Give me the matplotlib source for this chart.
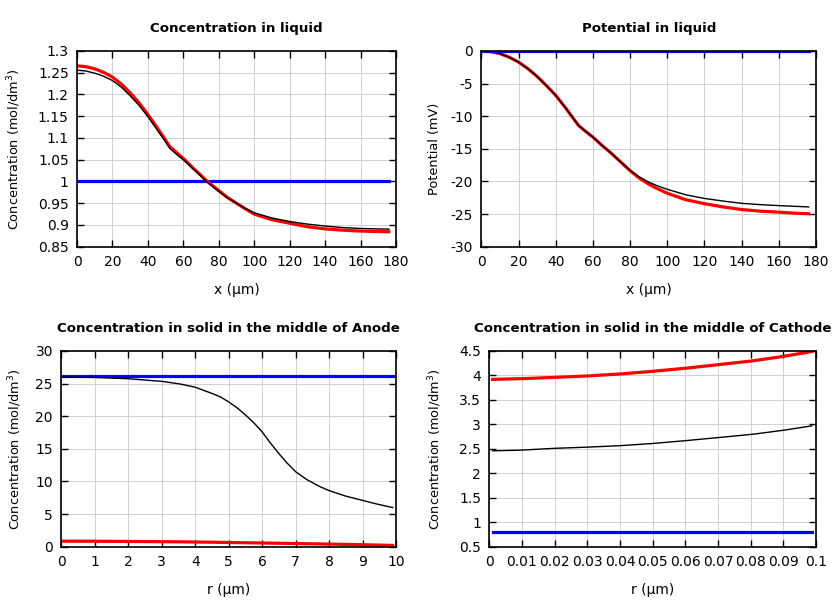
import numpy as np
import matplotlib
matplotlib.use("Agg")
import matplotlib.pyplot as plt

plt.rcParams['font.family'] = ['DejaVu Sans']
plt.rcParams['axes.unicode_minus'] = False

# liquid phase, x in um
x_liq = [0, 5, 10, 15, 20, 25, 30, 35, 40, 45, 49.5, 52.4, 56, 60, 65, 70, 73, 80, 85, 90, 95,
         100, 110, 120, 130, 140, 150, 160, 168, 176]
c_liq_black = [1.256, 1.254, 1.249, 1.242, 1.232, 1.217, 1.197, 1.175, 1.149, 1.120, 1.094, 1.076,
               1.063, 1.050, 1.031, 1.012, 1.000, 0.977, 0.962, 0.950, 0.938, 0.928, 0.916, 0.908,
               0.902, 0.8976, 0.894, 0.892, 0.891, 0.8905]
c_liq_red = [1.266, 1.264, 1.259, 1.251, 1.240, 1.224, 1.204, 1.181, 1.154, 1.125, 1.098, 1.080,
             1.067, 1.053, 1.033, 1.014, 1.002, 0.979, 0.963, 0.950, 0.937, 0.925, 0.912, 0.904,
             0.896, 0.891, 0.888, 0.886, 0.885, 0.8845]
c_liq_blue = [1.0] * len(x_liq)

p_liq_black = [0.0, -0.1, -0.4, -0.95, -1.7, -2.7, -3.9, -5.3, -6.8, -8.6, -10.35, -11.45, -12.3, -13.2,
               -14.5, -15.7, -16.5, -18.3, -19.3, -20.1, -20.7, -21.2, -22.05, -22.6, -23.0, -23.35,
               -23.55, -23.7, -23.8, -23.9]
p_liq_red = [0.0, -0.1, -0.4, -0.95, -1.7, -2.7, -3.9, -5.3, -6.8, -8.6, -10.35, -11.45, -12.3, -13.2,
             -14.5, -15.7, -16.5, -18.35, -19.5, -20.4, -21.15, -21.8, -22.8, -23.4, -23.9, -24.3,
             -24.55, -24.7, -24.85, -24.95]
p_liq_blue = [0.0] * len(x_liq)

# anode particle, r in um
r_an = [0.05, 1, 2, 3, 3.55, 4, 4.5, 4.74, 5, 5.25, 5.5, 5.75, 6, 6.23, 6.48, 6.73, 7, 7.33, 7.73,
        8, 8.5, 9, 9.42, 9.9]
c_an_black = [26.0, 25.95, 25.75, 25.35, 24.94, 24.45, 23.5, 23.0, 22.2, 21.3, 20.2, 19.0, 17.6, 16.0,
              14.4, 12.9, 11.5, 10.3, 9.2, 8.6, 7.75, 7.1, 6.55, 6.0]
c_an_red = [0.85, 0.84, 0.81, 0.77, 0.75, 0.72, 0.69, 0.67, 0.65, 0.63, 0.61, 0.59, 0.57, 0.55, 0.53,
            0.51, 0.49, 0.46, 0.43, 0.40, 0.36, 0.31, 0.26, 0.2]
c_an_blue = [26.15] * len(r_an)

# cathode particle, r in um
r_ca = [0.001, 0.01, 0.0196, 0.03, 0.04, 0.05, 0.0604, 0.07, 0.0808, 0.09, 0.0987]
c_ca_black = [2.46, 2.475, 2.51, 2.535, 2.565, 2.61, 2.67, 2.73, 2.80, 2.88, 2.97]
c_ca_red = [3.92, 3.935, 3.96, 3.99, 4.03, 4.085, 4.15, 4.22, 4.30, 4.39, 4.49]
c_ca_blue = [0.81] * len(r_ca)


def style(ax, title, xlabel, ylabel, xlim, ylim, xstep, ystep, ylab_x):
    ax.set_title(title, fontsize=9.6, fontweight='bold', pad=14)
    ax.set_xlabel(xlabel, fontsize=10, labelpad=10)
    ax.set_ylabel(ylabel, fontsize=9.3)
    ax.yaxis.set_label_coords(ylab_x, 0.5)
    ax.set_xlim(*xlim)
    ax.set_ylim(*ylim)
    ax.set_xticks(np.arange(xlim[0], xlim[1] + xstep / 2, xstep))
    ax.set_yticks(np.arange(ylim[0], ylim[1] + ystep / 2, ystep))
    ax.grid(True, color='#d0d0d0', linewidth=0.7)
    ax.set_axisbelow(True)
    ax.tick_params(direction='in', top=True, right=True, length=5, width=1, labelsize=10, pad=6)
    for s in ax.spines.values():
        s.set_linewidth(1.2)
    fmt = plt.FuncFormatter(lambda v, p: '%g' % round(v, 6))
    ax.xaxis.set_major_formatter(fmt)
    ax.yaxis.set_major_formatter(fmt)


fig = plt.figure(figsize=(8.4, 6), dpi=100)
ax1 = fig.add_axes([0.0917, 0.5888, 0.3797, 0.3262])
ax2 = fig.add_axes([0.573, 0.5888, 0.3985, 0.3262])
ax3 = fig.add_axes([0.073, 0.0888, 0.3985, 0.3262])
ax4 = fig.add_axes([0.5825, 0.0888, 0.389, 0.3262])

conc_lbl = 'Concentration (mol/dm$^3$)'

ax1.plot(x_liq, c_liq_blue, color='#0000ff', lw=2.3)
ax1.plot(x_liq, c_liq_red, color='#ff0000', lw=2.3)
ax1.plot(x_liq, c_liq_black, color='black', lw=1.0)
style(ax1, 'Concentration in liquid', 'x (µm)', conc_lbl, (0, 180), (0.85, 1.3), 20, 0.05, -0.170)

ax2.plot(x_liq, p_liq_red, color='#ff0000', lw=2.3)
ax2.plot(x_liq, p_liq_black, color='black', lw=1.0)
ax2.plot(x_liq, p_liq_blue, color='#0000ff', lw=2.3)
style(ax2, 'Potential in liquid', 'x (µm)', 'Potential (mV)', (0, 180), (-30, 0), 20, 5, -0.120)

ax3.plot(r_an, c_an_blue, color='#0000ff', lw=2.3)
ax3.plot(r_an, c_an_red, color='#ff0000', lw=2.3)
ax3.plot(r_an, c_an_black, color='black', lw=1.0)
style(ax3, 'Concentration in solid in the middle of Anode', 'r (µm)', conc_lbl, (0, 10), (0, 30), 1, 5, -0.111)

ax4.plot(r_ca, c_ca_blue, color='#0000ff', lw=2.3)
ax4.plot(r_ca, c_ca_red, color='#ff0000', lw=2.3)
ax4.plot(r_ca, c_ca_black, color='black', lw=1.0)
style(ax4, 'Concentration in solid in the middle of Cathode', 'r (µm)', conc_lbl, (0, 0.1), (0.5, 4.5), 0.01, 0.5, -0.139)

fig.savefig('out.png', dpi=100)
